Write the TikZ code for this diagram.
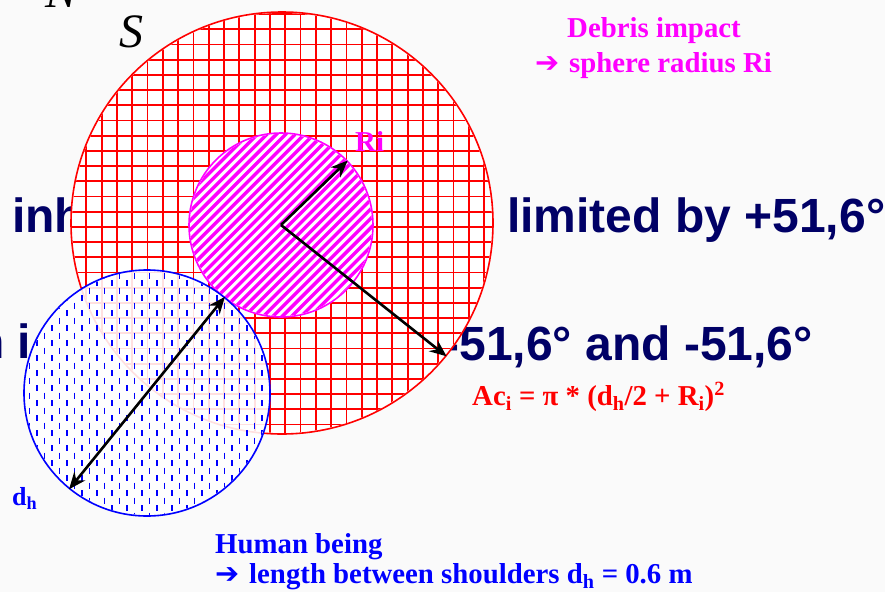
\documentclass[tikz,border=0pt]{standalone}
\usepackage{fontspec}
\setmainfont{Liberation Serif}
\newfontfamily\slidefont{Liberation Sans}
\newfontfamily\symbfont{DejaVu Sans}
\usetikzlibrary{arrows.meta, positioning}
\definecolor{slidenavy}{RGB}{0,0,102}
\definecolor{slidebg}{RGB}{250,250,250}
\definecolor{debrismag}{RGB}{255,0,255}
\definecolor{humanblue}{RGB}{0,0,255}
\definecolor{zonered}{RGB}{255,0,0}
\newcommand{\bigarrow}{\makebox[34pt][l]{\symbfont\bfseries ➔}}

\begin{document}
\begin{tikzpicture}[x=1pt, y=-1pt, >={Stealth[length=17pt, width=14pt]},
    slidetext/.style={anchor=base west, inner sep=0pt, text=slidenavy,
      font=\slidefont\bfseries\fontsize{48}{52}\selectfont},
    poletext/.style={anchor=base west, inner sep=0pt, text=black,
      font=\itshape\fontsize{48}{50}\selectfont},
    labeltext/.style={anchor=base west, inner sep=0pt,
      font=\bfseries\fontsize{28.8}{32}\selectfont},
    disc/.style={circle, inner sep=0pt, line width=1.6pt, fill=white},
    gridline/.style={zonered, line width=1.8pt},
    stripe/.style={debrismag, line width=3.4pt},
    humdash/.style={humanblue, line width=1.9pt, dash pattern=on 6pt off 9pt},
    dimarrow/.style={->, line width=2.6pt, black}]
  \useasboundingbox[fill=slidebg] (0,0) rectangle (885,592);

  % slide text behind the drawing
  \node[poletext] (poleN) at (45,7) {N};
  \node[poletext] (poleS) at (119,47) {S};
  \node[slidetext] (lineA) at (12,232) {inh};
  \node[slidetext] (lineB) at (507,232) {limited by +51,6°};
  \node[slidetext] (lineC) at (-25,358) {n i};
  \node[slidetext, anchor=base east] (lineD) at (813,360) {-51,6° and -51,6°};

  % impact zone
  \node[disc, draw=zonered, minimum size=422pt] (zone) at (282,223) {};
  \begin{scope}
    \clip (zone.center) circle[radius=210];
    \foreach \gx in {0,...,28} \draw[gridline] (71+15.3*\gx, 0) -- ++(0,450);
    \foreach \gy in {0,...,28} \draw[gridline] (60, 14+15.2*\gy) -- ++(450,0);
  \end{scope}

  % debris sphere
  \node[disc, draw=debrismag, minimum size=184pt] (deb) at (281,225) {};
  \begin{scope}
    \clip (deb.center) circle[radius=91];
    \foreach \s in {0,...,30} \draw[stripe] (38+9.4*\s, 335) -- ++(220,-220);
  \end{scope}

  % human being
  \node[disc, draw=humanblue, fill opacity=0.88, minimum size=246pt] (hum) at (147,393) {};
  \begin{scope}
    \clip (hum.center) circle[radius=122];
    \foreach \c in {0,...,17} {
      \draw[humdash] (22+15*\c, 265) -- (22+15*\c, 525);
      \draw[humdash, dash phase=7.5pt] (29.5+15*\c, 265) -- (29.5+15*\c, 525);
    }
  \end{scope}

  \draw[dimarrow] (deb.center) -- (deb.44);
  \draw[dimarrow] (deb.center) -- (zone.-39);
  \draw[dimarrow, <->] (hum.231) -- (hum.51);

  % labels
  \node[labeltext, text=debrismag] (debtitle) at (567,37) {Debris impact};
  \node[labeltext, text=debrismag] (debline) at (535,72) {\bigarrow sphere radius Ri};
  \node[labeltext, text=debrismag] (rilabel) at (355,151) {Ri};
  \node[labeltext, text=zonered] (formula) at (472,405)
    {Ac\textsubscript{i} = π * (d\textsubscript{h}/2 + R\textsubscript{i})\textsuperscript{2}};
  \node[labeltext, text=humanblue, font=\bfseries\fontsize{26}{28}\selectfont] (dhlabel) at (12,505)
    {d\textsubscript{h}};
  \node[labeltext, text=humanblue] (humtitle) at (215,553) {Human being};
  \node[labeltext, text=humanblue] (humline) at (215,583)
    {\bigarrow length between shoulders d\textsubscript{h} = 0.6 m};
\end{tikzpicture}
\end{document}
